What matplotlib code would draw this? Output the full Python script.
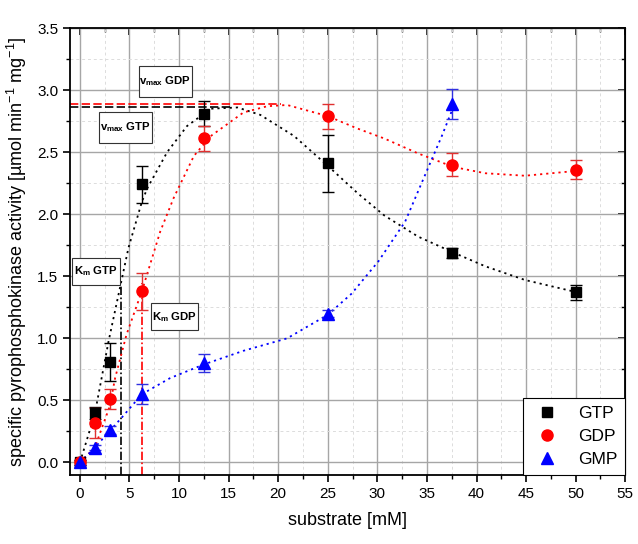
import numpy as np
import matplotlib.pyplot as plt
from matplotlib.ticker import MultipleLocator
from matplotlib.lines import Line2D
from matplotlib.patches import Rectangle

plt.rcParams['font.family'] = ['Liberation Sans', 'DejaVu Sans']

# measured points
substrate = [0, 1.5, 3, 6.25, 12.5, 25, 37.5, 50]
gtp = [0.0, 0.40, 0.81, 2.24, 2.81, 2.41, 1.69, 1.37]
gtp_err = [0.02, 0.05, 0.15, 0.15, 0.10, 0.23, 0.04, 0.06]
gdp = [0.0, 0.32, 0.51, 1.38, 2.61, 2.79, 2.40, 2.36]
gdp_err = [0.02, 0.12, 0.08, 0.15, 0.10, 0.10, 0.09, 0.08]
substrate_gmp = [0, 1.5, 3, 6.25, 12.5, 25, 37.5]
gmp = [0.0, 0.12, 0.26, 0.55, 0.80, 1.20, 2.89]
gmp_err = [0.02, 0.02, 0.03, 0.08, 0.07, 0.03, 0.12]

# fitted curves
fit_gtp_x = [0, 1.5, 2.9, 4.9, 6.25, 6.8, 8.8, 10.8, 13.2, 15.9, 18.2, 21.6, 25, 28, 30.7, 34.1, 37.7, 40.9, 44.9, 50.2]
fit_gtp_y = [0, 0.39, 0.98, 1.73, 2.10, 2.21, 2.50, 2.71, 2.85, 2.86, 2.80, 2.63, 2.39, 2.17, 1.99, 1.82, 1.69, 1.58, 1.47, 1.37]
fit_gdp_x = [0, 1.5, 3, 3.55, 4.7, 6.25, 8.1, 9.45, 11.5, 13.2, 16.5, 18.9, 20.9, 25, 28, 30.7, 34.1, 37.7, 40.9, 44.9, 50.2]
fit_gdp_y = [0, 0.12, 0.45, 0.68, 1.03, 1.38, 1.86, 2.13, 2.47, 2.63, 2.82, 2.87, 2.88, 2.79, 2.69, 2.61, 2.49, 2.38, 2.33, 2.31, 2.35]
fit_gmp_x = [0, 1.5, 4.2, 6.25, 9.1, 12.5, 16.5, 20.9, 25, 27.4, 30.1, 32.8, 35.1, 36.5, 37.7]
fit_gmp_y = [0, 0.12, 0.36, 0.55, 0.68, 0.79, 0.90, 1.00, 1.19, 1.36, 1.62, 1.94, 2.37, 2.63, 2.87]

vmax_gtp, vmax_gtp_end = 2.86, 15.2
vmax_gdp, vmax_gdp_end = 2.89, 20.3
km_gtp = 4.15
km_gdp = 6.25

labels = [r'v$_{\mathregular{max}}$ GDP', r'v$_{\mathregular{max}}$ GTP', r'K$_{\mathregular{m}}$ GTP', r'K$_{\mathregular{m}}$ GDP']

fig = plt.figure(figsize=(6.38, 5.44), dpi=100)
ax = fig.add_axes([0.1097, 0.127, 0.8703, 0.8215])

ax.set_xlim(-1, 55)
ax.set_ylim(-0.1, 3.5)
ax.xaxis.set_major_locator(MultipleLocator(5))
ax.xaxis.set_minor_locator(MultipleLocator(2.5))
ax.yaxis.set_major_locator(MultipleLocator(0.5))
ax.yaxis.set_minor_locator(MultipleLocator(0.25))
ax.grid(True, which='major', color='#a6a6a6', lw=1.0, zorder=0)
ax.grid(True, which='minor', color='#dcdcdc', lw=0.7, ls=(0, (3, 3)), zorder=0)
ax.set_axisbelow(True)

# vmax / Km guide lines
ax.plot([-1, vmax_gtp_end], [vmax_gtp, vmax_gtp], color='black', ls=(0, (5, 2)), lw=1.2, zorder=2)
ax.plot([-1, vmax_gdp_end], [vmax_gdp, vmax_gdp], color='red', ls=(0, (5, 2)), lw=1.2, zorder=2)
ax.plot([km_gtp, km_gtp], [-0.1, vmax_gtp / 2], color='black', ls=(0, (5, 1.5, 1, 1.5)), lw=1.2, zorder=2)
ax.plot([km_gdp, km_gdp], [-0.1, vmax_gdp / 2], color='red', ls=(0, (5, 1.5, 1, 1.5)), lw=1.2, zorder=2)

# fits
ax.plot(fit_gtp_x, fit_gtp_y, color='black', ls=(0, (1.2, 2.2)), lw=1.3, zorder=3)
ax.plot(fit_gdp_x, fit_gdp_y, color='red', ls=(0, (1.2, 2.2)), lw=1.3, zorder=3)
ax.plot(fit_gmp_x, fit_gmp_y, color='blue', ls=(0, (1.2, 2.2)), lw=1.3, zorder=3)

# data with error bars
ax.errorbar(substrate, gtp, yerr=gtp_err, fmt='s', color='black', ms=7, capsize=4, elinewidth=1, capthick=1, zorder=5)
ax.errorbar(substrate, gdp, yerr=gdp_err, fmt='o', color='red', ecolor='#e03030', ms=8, capsize=4, elinewidth=1, capthick=1, zorder=5)
ax.errorbar(substrate_gmp, gmp, yerr=gmp_err, fmt='^', color='blue', ecolor='#3030e0', ms=8, capsize=4, elinewidth=1, capthick=1, zorder=5)

# annotation boxes (centre in data units, size in data units)
box_pos = [(8.63, 3.07), (4.62, 2.70), (1.62, 1.54), (9.5, 1.175)]
box_size = [(5.35, 0.25), (5.35, 0.25), (4.75, 0.217), (4.75, 0.217)]
for lab, (cx, cy), (w, h) in zip(labels, box_pos, box_size):
    ax.add_patch(Rectangle((cx - w / 2, cy - h / 2), w, h, fc='white', ec='#333333', lw=0.8, zorder=6))
    ax.text(cx, cy, lab, fontsize=8.2, fontweight='bold', ha='center', va='center', zorder=7)

handles = [Line2D([], [], ls='none', marker='s', color='black', ms=7),
           Line2D([], [], ls='none', marker='o', color='red', ms=8),
           Line2D([], [], ls='none', marker='^', color='blue', ms=8)]
leg = ax.legend(handles, ['GTP', 'GDP', 'GMP'], loc='lower right', fontsize=12.5, frameon=True,
                fancybox=False, edgecolor='black', handlelength=1.8, handletextpad=0.9,
                borderpad=0.45, labelspacing=0.45, borderaxespad=0.0, framealpha=1)
leg.get_frame().set_linewidth(0.8)

ax.tick_params(which='major', direction='out', length=5, width=1.2, labelsize=11)
ax.tick_params(which='minor', direction='out', length=3, width=1.0)
for spine in ax.spines.values():
    spine.set_linewidth(1.3)

# inward mirror ticks on top / right
top = ax.secondary_xaxis('top')
top.xaxis.set_major_locator(MultipleLocator(5))
top.xaxis.set_minor_locator(MultipleLocator(2.5))
top.tick_params(which='major', direction='in', length=5, width=1.2, labeltop=False)
top.tick_params(which='minor', direction='in', length=3, width=1.0)
right = ax.secondary_yaxis('right')
right.yaxis.set_major_locator(MultipleLocator(0.5))
right.yaxis.set_minor_locator(MultipleLocator(0.25))
right.tick_params(which='major', direction='in', length=5, width=1.2, labelright=False)
right.tick_params(which='minor', direction='in', length=3, width=1.0)

ax.set_xlabel('substrate [mM]', fontsize=13, labelpad=8)
ax.set_ylabel(r'specific pyrophosphokinase activity [µmol min$^{\mathregular{-1}}$ mg$^{\mathregular{-1}}$]', fontsize=13, labelpad=6)

fig.savefig('out.png', dpi=100)
